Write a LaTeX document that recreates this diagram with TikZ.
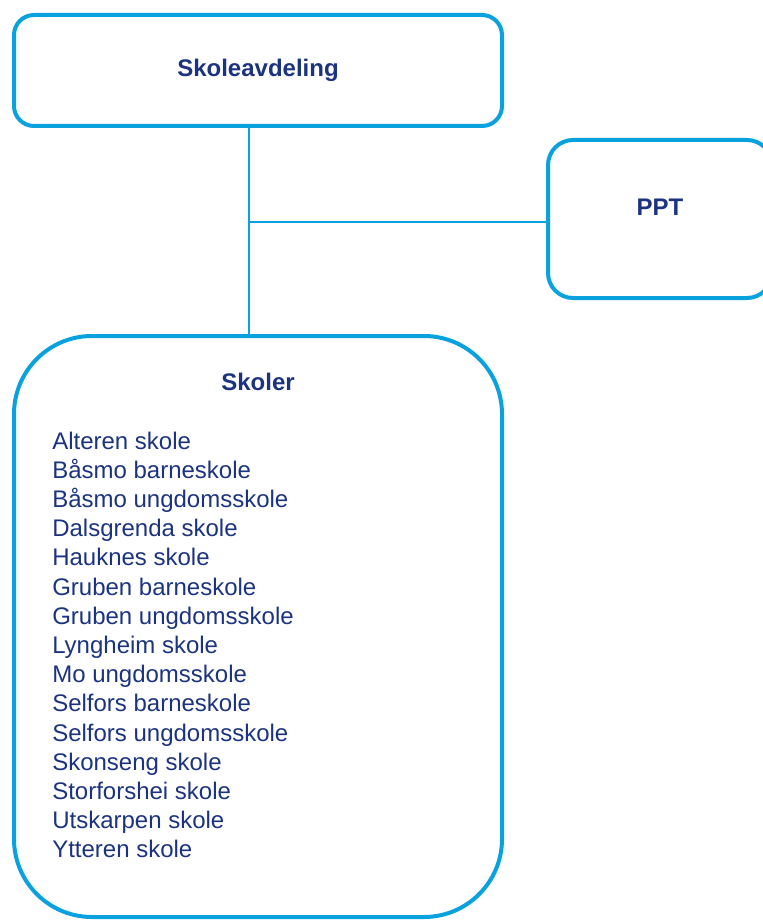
\documentclass[tikz,border=0pt]{standalone}
\usepackage{fontspec}
\setmainfont{Liberation Sans}
\definecolor{boxblue}{RGB}{10,162,222}
\definecolor{navy}{RGB}{28,52,128}
\begin{document}
\begin{tikzpicture}[x=0.75pt,y=-0.75pt,
  box/.style={draw=boxblue,line width=3pt,fill=white,inner sep=0pt},
  conn/.style={draw=boxblue,line width=1.5pt},
  title/.style={text=navy,font=\fontsize{18}{21.6}\selectfont\bfseries,inner sep=0pt},
  listitem/.style={text=navy,font=\fontsize{18}{21.6}\selectfont,inner sep=0pt,anchor=base west}]
\useasboundingbox (0,0) rectangle (763,920);
% junction of connectors
\coordinate (j) at (249,222);
% boxes
\node[box,rounded corners=15pt,minimum width=366pt,minimum height=83.25pt] (top) at (258,70.5) {};
\node[box,rounded corners=18.75pt,minimum width=168pt,minimum height=118.5pt] (ppt) at (660,219) {};
\node[box,rounded corners=58.5pt,minimum width=366pt,minimum height=435.75pt] (skoler) at (258,626.5) {};
% connectors
\draw[conn] (top.south -| j) -- (skoler.north -| j);
\draw[conn] (j) -- (ppt.west |- j);
% titles
\node[title] (ttop) at (258,70) {Skoleavdeling};
\node[title] (tppt) at (660,207) {PPT};
\node[title] (tskoler) at (258,382) {Skoler};
% list
\foreach \s [count=\i] in {Alteren skole,Båsmo barneskole,Båsmo ungdomsskole,Dalsgrenda skole,Hauknes skole,Gruben barneskole,Gruben ungdomsskole,Lyngheim skole,Mo ungdomsskole,Selfors barneskole,Selfors ungdomsskole,Skonseng skole,Storforshei skole,Utskarpen skole,Ytteren skole}
  \node[listitem] (s\i) at (52,{449+29.2*(\i-1)}) {\s};
\end{tikzpicture}
\end{document}
